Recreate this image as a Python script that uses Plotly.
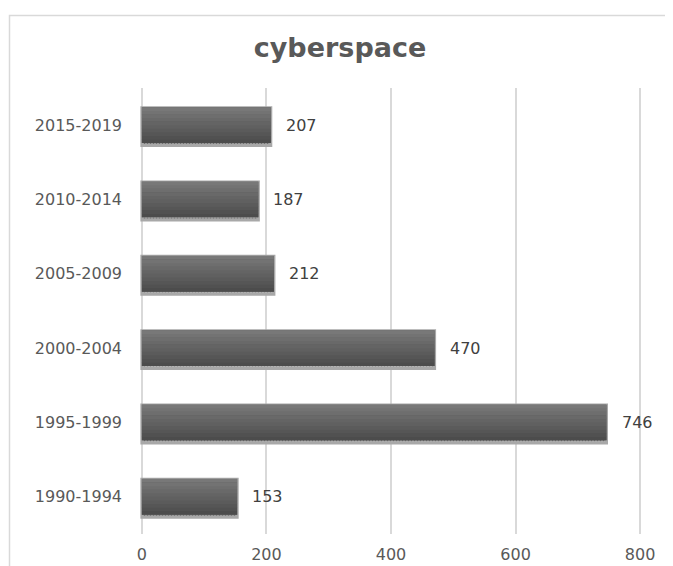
import plotly.graph_objects as go

periods = ["1990-1994", "1995-1999", "2000-2004", "2005-2009", "2010-2014", "2015-2019"]
papers = [153, 746, 470, 212, 187, 207]
x_ticks = [0, 200, 400, 600, 800]
title_text = "cyberspace"

# page has an 8px body margin, so the figure is sized/shifted to compensate
OFF = 8
W, H = 673 - OFF, 566 - OFF
L, R, T, B = 132, 31, 80, 32
bar_w = 0.48

fig = go.Figure()

# dotted-looking shadow behind each bar
fig.add_trace(go.Bar(
    y=periods, x=papers, orientation="h", width=bar_w + 0.03, offset=-bar_w / 2 - 0.035,
    marker=dict(color="#8a8a8a", line=dict(color="#a8a8a8", width=3),
                pattern=dict(shape=".", fgcolor="#222222", bgcolor="#bbbbbb", size=3, solidity=0.4)),
    hoverinfo="skip", showlegend=False,
))

# base bar
fig.add_trace(go.Bar(
    y=periods, x=papers, orientation="h", width=bar_w, offset=-bar_w / 2,
    marker=dict(color="#5a5a5a", line=dict(width=0)),
    hoverinfo="x+y", showlegend=False,
))

# vertical gradient bands (lighter at top, darker at bottom)
n = 10
c_top, c_bot = (0x78, 0x78, 0x78), (0x4c, 0x4c, 0x4c)
for i in range(n):
    f = i / (n - 1)
    c = tuple(round(c_bot[k] + (c_top[k] - c_bot[k]) * f) for k in range(3))
    band = bar_w / n
    fig.add_trace(go.Bar(
        y=periods, x=papers, orientation="h", width=band * 1.05,
        offset=-bar_w / 2 + i * band,
        marker=dict(color="rgb(%d,%d,%d)" % c, line=dict(width=0)),
        hoverinfo="skip", showlegend=False,
    ))

# value labels
for p, v in zip(periods, papers):
    fig.add_annotation(x=v, y=p, xref="x", yref="y", text=str(v), showarrow=False,
                       xanchor="left", yanchor="middle", xshift=13,
                       font=dict(family="DejaVu Sans", size=16, color="#404040"))

# chart frame border (partially cropped in the reference)
pw, ph = W - L - R, H - T - B
def px2x(px): return (px - L) / pw
def py2y(py): return 1 - (py - T) / ph
fig.add_shape(type="rect", xref="paper", yref="paper",
              x0=px2x(1.5), x1=px2x(W + 20), y0=py2y(H + 20), y1=py2y(7.5),
              line=dict(color="#d9d9d9", width=1.5), fillcolor="rgba(0,0,0,0)", layer="below")

fig.update_layout(
    width=W, height=H,
    margin=dict(l=L, r=R, t=T, b=B, pad=0, autoexpand=False),
    barmode="overlay",
    paper_bgcolor="white", plot_bgcolor="white",
    title=dict(text="<b>%s</b>" % title_text, x=332 / W, xanchor="center",
               y=1 - 40 / H, yanchor="middle", yref="container",
               font=dict(family="DejaVu Sans", size=27, color="#595959")),
    xaxis=dict(range=[-3, 803], tickvals=x_ticks, ticktext=[str(v) for v in x_ticks],
               showgrid=True, gridcolor="#d9d9d9", gridwidth=1.5, zeroline=False,
               showline=False, ticks="", ticklabelstandoff=9, automargin=False,
               tickfont=dict(family="DejaVu Sans", size=16, color="#595959")),
    yaxis=dict(categoryorder="array", categoryarray=periods, range=[-0.5, 5.5],
               showgrid=False, zeroline=False, showline=False, ticks="",
               ticklabelstandoff=17, automargin=False,
               tickfont=dict(family="DejaVu Sans", size=16, color="#595959")),
    font=dict(family="DejaVu Sans"),
)

fig.write_html("out.html")
